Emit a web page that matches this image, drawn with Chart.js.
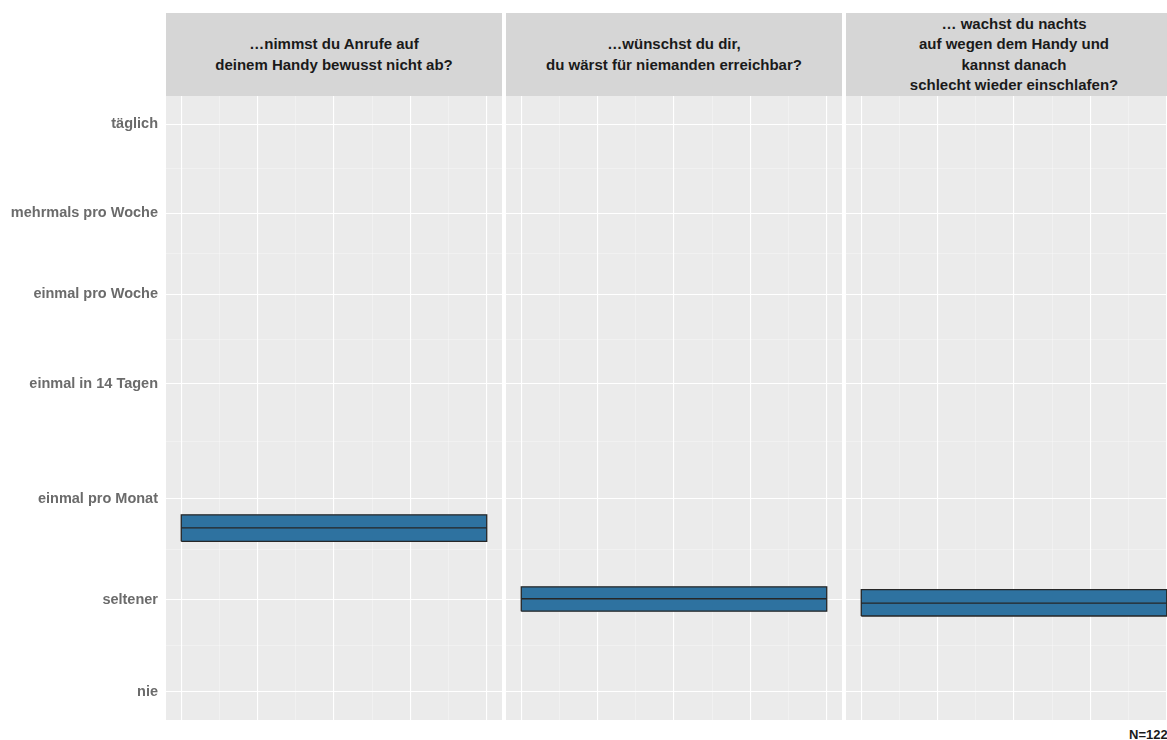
<!DOCTYPE html>
<html>
<head>
<meta charset="utf-8">
<script src="https://cdn.jsdelivr.net/npm/chart.js@4.4.1/dist/chart.umd.min.js"></script>
<style>
  body { margin: 0; width: 1167px; height: 740px; overflow: hidden; background: #fff; position: relative;
         font-family: "Liberation Sans", Arial, sans-serif; }
  .strip { position: absolute; top: 13px; height: 83px; width: 336px; background: #d6d6d6;
           display: flex; align-items: center; justify-content: center; text-align: center;
           font-weight: bold; font-size: 15px; line-height: 20.5px; color: #1a1a1a; }
  .panel { position: absolute; top: 96px; }
  #nLabel { position: absolute; left: 1129px; top: 727px; font-weight: bold; font-size: 13px; color: #1a1a1a; white-space: nowrap; }
</style>
</head>
<body>
<div class="strip" style="left:166px" id="s0"></div>
<div class="strip" style="left:506px" id="s1"></div>
<div class="strip" style="left:846px" id="s2"></div>
<canvas class="panel" id="p0" width="502" height="624" style="left:0px"></canvas>
<canvas class="panel" id="p1" width="336" height="624" style="left:506px"></canvas>
<canvas class="panel" id="p2" width="336" height="624" style="left:846px"></canvas>
<div id="nLabel">N=122</div>

<script>
// Antwortstufen und ihre Position auf der y-Achse
const levels = ["nie", "seltener", "einmal pro Monat", "einmal in 14 Tagen", "einmal pro Woche", "mehrmals pro Woche", "täglich"];
const levelPos = [0, 1, 2.098, 3.348, 4.326, 5.207, 6.174];

// Fragen (Facetten)
const questions = [
  ["…nimmst du Anrufe auf", "deinem Handy bewusst nicht ab?"],
  ["…wünschst du dir,", "du wärst für niemanden erreichbar?"],
  ["… wachst du nachts", "auf wegen dem Handy und", "kannst danach", "schlecht wieder einschlafen?"],
];

// Box je Frage (unteres Quartil, Median, oberes Quartil)
const boxLow = [1.636, 0.875, 0.823];
const boxMid = [1.783, 1.011, 0.964];
const boxHigh = [1.924, 1.141, 1.109];
const boxStart = 0;
const boxEnd = 1;

// Gitter
const xMajor = [0, 0.25, 0.5, 0.75, 1];
const xMinor = [0.125, 0.375, 0.625, 0.875];
const yMinor = [0.5, 1.549, 2.723, 3.837, 4.767, 5.69];

const panelBg = {
  id: "panelBg",
  beforeDraw(chart) {
    const { ctx, chartArea: a } = chart;
    ctx.save();
    ctx.fillStyle = "#ebebeb";
    ctx.fillRect(a.left, a.top, a.right - a.left, a.bottom - a.top);
    ctx.restore();
  },
};

function makePanel(i) {
  document.getElementById("s" + i).innerHTML = questions[i].join("<br>");
  const showY = i === 0;
  const lo = boxLow[i], hi = boxHigh[i], md = boxMid[i];

  new Chart(document.getElementById("p" + i), {
    type: "line",
    data: {
      datasets: [
        {
          data: [
            { x: boxStart, y: lo }, { x: boxEnd, y: lo },
            { x: boxEnd, y: hi }, { x: boxStart, y: hi }, { x: boxStart, y: lo },
          ],
          borderColor: "#262626",
          borderWidth: 1.3,
          backgroundColor: "#2e72a0",
          fill: "shape",
          pointRadius: 0,
          tension: 0,
          order: 2,
        },
        {
          // Median
          data: [{ x: boxStart, y: md }, { x: boxEnd, y: md }],
          borderColor: "#262626",
          borderWidth: 1.3,
          fill: false,
          pointRadius: 0,
          order: 1,
        },
      ],
    },
    options: {
      responsive: false,
      animation: false,
      devicePixelRatio: 1,
      layout: { padding: 0 },
      plugins: { legend: { display: false }, tooltip: { enabled: false } },
      scales: {
        x: {
          type: "linear",
          min: -0.05,
          max: 1.05,
          afterBuildTicks: (s) => { s.ticks = xMajor.concat(xMinor).map((v) => ({ value: v })); },
          ticks: { display: false },
          grid: {
            drawTicks: false,
            color: (c) => (xMajor.includes(c.tick.value) ? "#ffffff" : "rgba(255,255,255,0.55)"),
            lineWidth: (c) => (xMajor.includes(c.tick.value) ? 1.1 : 0.6),
          },
          border: { display: false },
        },
        y: {
          type: "linear",
          min: -0.309,
          max: 6.483,
          afterBuildTicks: (s) => { s.ticks = levelPos.concat(yMinor).map((v) => ({ value: v })); },
          afterFit: (s) => {
            s.width = showY ? 166 : 0;
            s.paddingTop = 0;
            s.paddingBottom = 0;
          },
          ticks: {
            display: showY,
            padding: 8,
            color: "#6b6b6b",
            font: { family: "'Liberation Sans', Arial, sans-serif", size: 14.5, weight: "bold" },
            callback: (v) => { const k = levelPos.indexOf(v); return k >= 0 ? levels[k] : ""; },
          },
          grid: {
            drawTicks: false,
            color: (c) => (levelPos.includes(c.tick.value) ? "#ffffff" : "rgba(255,255,255,0.55)"),
            lineWidth: (c) => (levelPos.includes(c.tick.value) ? 1.1 : 0.6),
          },
          border: { display: false },
        },
      },
    },
    plugins: [panelBg],
  });
}

[0, 1, 2].forEach(makePanel);
</script>
</body>
</html>
